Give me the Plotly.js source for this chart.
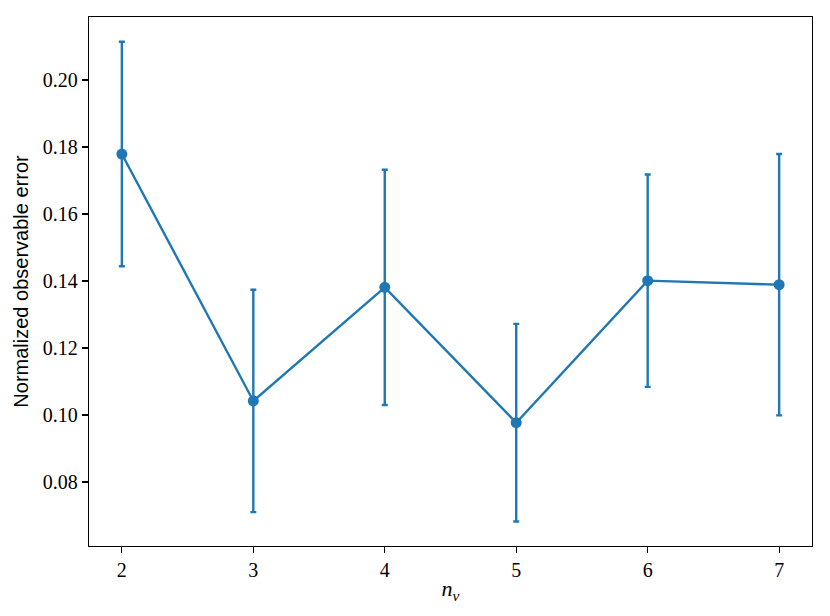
<!DOCTYPE html>
<html>
<head>
<meta charset="utf-8">
<script src="https://cdn.plot.ly/plotly-3.0.1.min.js"></script>
<style>html,body{margin:0;padding:0;background:#fff}#chart{width:830px;height:616px}</style>
</head>
<body>
<div id="chart"></div>
<script>
const nv = [2, 3, 4, 5, 6, 7];
const meanError = [0.1779, 0.1042, 0.1381, 0.0977, 0.1401, 0.1389];
const stdError = [0.0335, 0.0332, 0.0351, 0.0295, 0.0317, 0.0390];
const yTicks = [0.08, 0.10, 0.12, 0.14, 0.16, 0.18, 0.20];
const yTickText = ["0.08", "0.10", "0.12", "0.14", "0.16", "0.18", "0.20"];
const xTicks = [2, 3, 4, 5, 6, 7];

const trace = {
  x: nv, y: meanError, type: 'scatter', mode: 'lines+markers',
  line: {color: '#1f77b4', width: 2.4},
  marker: {color: '#1f77b4', size: 11},
  error_y: {type: 'data', array: stdError, visible: true, color: '#1f77b4', thickness: 2.4, width: 3},
  showlegend: false
};
const serif = 'Liberation Serif, DejaVu Serif, serif';
const layout = {
  width: 830, height: 616,
  margin: {l: 89, r: 18, t: 17, b: 70},
  paper_bgcolor: '#fff', plot_bgcolor: '#fff',
  xaxis: {
    range: [1.75, 7.25], tickvals: xTicks, ticks: 'outside', ticklen: 6, tickwidth: 1.2, tickcolor: '#000',
    showline: true, mirror: true, linecolor: '#000', linewidth: 1.2, showgrid: false, zeroline: false,
    tickfont: {family: serif, size: 20, color: '#000'},
    title: {text: '<i>n</i><sub><i>v</i></sub>', font: {family: serif, size: 22, color: '#000'}, standoff: 0}
  },
  yaxis: {
    range: [0.0609, 0.2188], tickvals: yTicks, ticktext: yTickText, ticks: 'outside', ticklen: 6, tickwidth: 1.2, tickcolor: '#000',
    showline: true, mirror: true, linecolor: '#000', linewidth: 1.2, showgrid: false, zeroline: false,
    tickfont: {family: serif, size: 20, color: '#000'},
    title: {text: 'Normalized observable error', font: {family: 'Liberation Sans, DejaVu Sans, sans-serif', size: 20, color: '#000'}, standoff: 8}
  }
};
Plotly.newPlot('chart', [trace], layout, {displayModeBar: false, staticPlot: true});
</script>
</body>
</html>
